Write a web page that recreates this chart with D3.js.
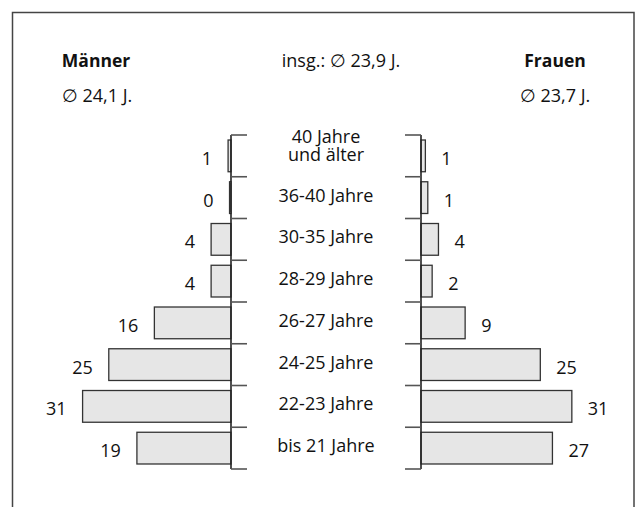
<!DOCTYPE html>
<html>
<head>
<meta charset="utf-8">
<script src="https://cdn.jsdelivr.net/npm/d3@7"></script>
<style>
  body { margin: 0; background: #fff; }
  svg { display: block; font-family: "Open Sans", sans-serif; }
  text { fill: #111; }
</style>
</head>
<body>
<div id="graph"></div>
<script>
// age groups, oldest at top
var categories = ["40+", "36-40", "30-35", "28-29", "26-27", "24-25", "22-23", "bis21"];
var categoryLabels = [["40 Jahre", "und älter"], ["36-40 Jahre"], ["30-35 Jahre"], ["28-29 Jahre"],
  ["26-27 Jahre"], ["24-25 Jahre"], ["22-23 Jahre"], ["bis 21 Jahre"]];
// percent per group
var maenner = [0.6, 0.3, 4.1, 4.1, 15.8, 25.2, 30.6, 19.4];
var frauen = [0.9, 1.4, 3.6, 2.3, 9.1, 24.6, 31.1, 27.1];
var titleLeft = "Männer", avgLeft = "\u2205 24,1 J.";
var titleRight = "Frauen", avgRight = "\u2205 23,7 J.";
var avgAll = "insg.: \u2205 23,9 J.";

var width = 637, height = 507;
var leftAxisX = 231, rightAxisX = 421, barMax = 31 * 4.85;

var svg = d3.select("#graph").append("svg")
    .attr("width", width)
    .attr("height", height);

// frame, open at the bottom
svg.append("rect")
    .attr("x", 12.5).attr("y", 12.5)
    .attr("width", 621.5).attr("height", 600)
    .attr("fill", "none")
    .attr("stroke", "#444")
    .attr("stroke-width", 1.5);

var yBand = d3.scaleBand().domain(categories).range([135, 469]);
var yBar = d3.scaleBand().domain(categories).range([135, 469])
    .paddingInner(0.24).paddingOuter(0.12);

var xLeft = d3.scaleLinear().domain([0, 31]).range([leftAxisX, leftAxisX - barMax]);
var xRight = d3.scaleLinear().domain([0, 31]).range([rightAxisX, rightAxisX + barMax]);

var fmt = d3.format(".0f");
var mid = function(c) { return yBand(c) + yBand.bandwidth() / 2; };

var men = categories.map(function(c, i) { return {cat: c, value: maenner[i]}; });
var women = categories.map(function(c, i) { return {cat: c, value: frauen[i]}; });

// bars
svg.selectAll(".bar-m").data(men).enter().append("rect")
    .attr("class", "bar-m")
    .attr("x", function(d) { return xLeft(d.value); })
    .attr("y", function(d) { return yBar(d.cat); })
    .attr("width", function(d) { return xLeft(0) - xLeft(d.value); })
    .attr("height", yBar.bandwidth())
    .attr("fill", "#e6e6e6")
    .attr("stroke", "#333")
    .attr("stroke-width", 1.3);

svg.selectAll(".bar-f").data(women).enter().append("rect")
    .attr("class", "bar-f")
    .attr("x", xRight(0))
    .attr("y", function(d) { return yBar(d.cat); })
    .attr("width", function(d) { return xRight(d.value) - xRight(0); })
    .attr("height", yBar.bandwidth())
    .attr("fill", "#e6e6e6")
    .attr("stroke", "#333")
    .attr("stroke-width", 1.3);

// axes: vertical line plus ticks at the group boundaries
var bounds = categories.map(function(c) { return yBand(c); }).concat([yBand.range()[1]]);

[[leftAxisX, 16], [rightAxisX, -16]].forEach(function(a) {
  svg.append("line")
      .attr("x1", a[0]).attr("x2", a[0])
      .attr("y1", bounds[0]).attr("y2", bounds[bounds.length - 1])
      .attr("stroke", "#222").attr("stroke-width", 1.6);
  svg.selectAll(null).data(bounds).enter().append("line")
      .attr("x1", a[0]).attr("x2", a[0] + a[1])
      .attr("y1", function(d) { return d; })
      .attr("y2", function(d) { return d; })
      .attr("stroke", "#555").attr("stroke-width", 1.6);
});

// value labels
svg.selectAll(".lab-m").data(men).enter().append("text")
    .attr("class", "lab-m")
    .attr("x", function(d) { return xLeft(d.value) - 16; })
    .attr("y", function(d) { return mid(d.cat) + 9; })
    .attr("text-anchor", "end")
    .style("font-size", "18px")
    .text(function(d) { return fmt(d.value); });

svg.selectAll(".lab-f").data(women).enter().append("text")
    .attr("class", "lab-f")
    .attr("x", function(d) { return xRight(d.value) + 16; })
    .attr("y", function(d) { return mid(d.cat) + 9; })
    .style("font-size", "18px")
    .text(function(d) { return fmt(d.value); });

// category labels in the middle
var catText = svg.selectAll(".cat").data(categories).enter().append("text")
    .attr("class", "cat")
    .attr("text-anchor", "middle")
    .style("font-size", "18px")
    .attr("y", function(d, i) {
      return categoryLabels[i].length > 1 ? mid(d) - 13 : mid(d) + 4;
    });

catText.selectAll("tspan")
    .data(function(d, i) { return categoryLabels[i]; })
    .enter().append("tspan")
    .attr("x", (leftAxisX + rightAxisX) / 2)
    .attr("dy", function(d, i) { return i ? 18 : 0; })
    .text(function(d) { return d; });

// header
svg.append("text").attr("x", 96).attr("y", 67)
    .attr("text-anchor", "middle")
    .style("font-size", "17.5px").style("font-weight", "bold")
    .text(titleLeft);
svg.append("text").attr("x", 97).attr("y", 102)
    .attr("text-anchor", "middle")
    .style("font-size", "18px")
    .text(avgLeft);
svg.append("text").attr("x", 341).attr("y", 67)
    .attr("text-anchor", "middle")
    .style("font-size", "18px")
    .text(avgAll);
svg.append("text").attr("x", 555).attr("y", 67)
    .attr("text-anchor", "middle")
    .style("font-size", "17.5px").style("font-weight", "bold")
    .text(titleRight);
svg.append("text").attr("x", 555).attr("y", 102)
    .attr("text-anchor", "middle")
    .style("font-size", "18px")
    .text(avgRight);
</script>
</body>
</html>
